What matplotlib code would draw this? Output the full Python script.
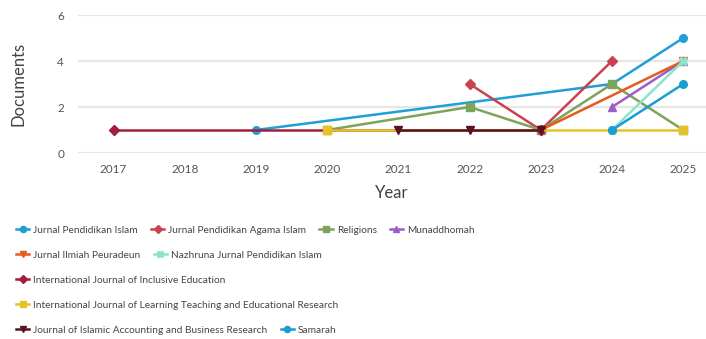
import matplotlib
matplotlib.use('Agg')
import matplotlib.pyplot as plt

plt.rcParams['font.family'] = ['Lato', 'DejaVu Sans']

# documents per year for each source
journals = [
    "Jurnal Pendidikan Islam",
    "Jurnal Pendidikan Agama Islam",
    "Religions",
    "Munaddhomah",
    "Jurnal Ilmiah Peuradeun",
    "Nazhruna Jurnal Pendidikan Islam",
    "International Journal of Inclusive Education",
    "International Journal of Learning Teaching and Educational Research",
    "Journal of Islamic Accounting and Business Research",
    "Samarah",
]
years = [
    [2019, 2024, 2025],
    [2022, 2023, 2024],
    [2020, 2022, 2023, 2024, 2025],
    [2024, 2025],
    [2023, 2025],
    [2024, 2025],
    [2017, 2023],
    [2020, 2025],
    [2021, 2022, 2023],
    [2024, 2025],
]
docs = [
    [1, 3, 5],
    [3, 1, 4],
    [1, 2, 1, 3, 1],
    [2, 4],
    [1, 4],
    [1, 4],
    [1, 1],
    [1, 1],
    [1, 1, 1],
    [1, 3],
]
colors = ["#1f9fd5", "#c9424f", "#7ea35a", "#9b5fc8", "#e55b1c",
          "#8ae3cb", "#a11d3a", "#e6c229", "#5a1220", "#1a9ed0"]
markers = ["o", "D", "s", "^", "v", "X", "D", "s", "v", "o"]
year_ticks = list(range(2017, 2026))

fig = plt.figure(figsize=(7.06, 3.39), dpi=100)
ax = fig.add_axes([78 / 706, 186 / 339, 628 / 706, 138 / 339])

lines = []
for name, x, y, c, m in zip(journals, years, docs, colors, markers):
    ln, = ax.plot(x, y, color=c, marker=m, markersize=5.5, linewidth=1.8,
                  label=name, clip_on=False)
    lines.append(ln)

ax.set_xlim(2016.5, 2025.32)
ax.set_ylim(0, 6)
ax.set_yticks([0, 2, 4, 6])
ax.set_xticks(year_ticks)
ax.grid(axis='y', color='#e6e6e6', linewidth=1.6)
ax.set_axisbelow(True)
for s in ax.spines.values():
    s.set_visible(False)
ax.tick_params(length=0, labelsize=8.5, colors='#555555', pad=8)
ax.tick_params(axis='y', pad=10)
ax.set_xlabel("Year", fontsize=12, color='#444444', labelpad=7)
ax.set_ylabel("Documents", fontsize=12, color='#444444', labelpad=22)

# legend rows under the chart
rows = [[0, 1, 2, 3], [4, 5], [6], [7], [8, 9]]
for i, row in enumerate(rows):
    fig.legend(handles=[lines[k] for k in row], loc='center left',
               bbox_to_anchor=(16 / 706, 1 - (230 + 25 * i) / 339),
               ncol=len(row), frameon=False, fontsize=7.3,
               handlelength=1.3, handletextpad=0.4, columnspacing=1.3,
               borderpad=0, borderaxespad=0, markerscale=0.8,
               labelcolor='#444444')

fig.savefig("out.png", dpi=100)
